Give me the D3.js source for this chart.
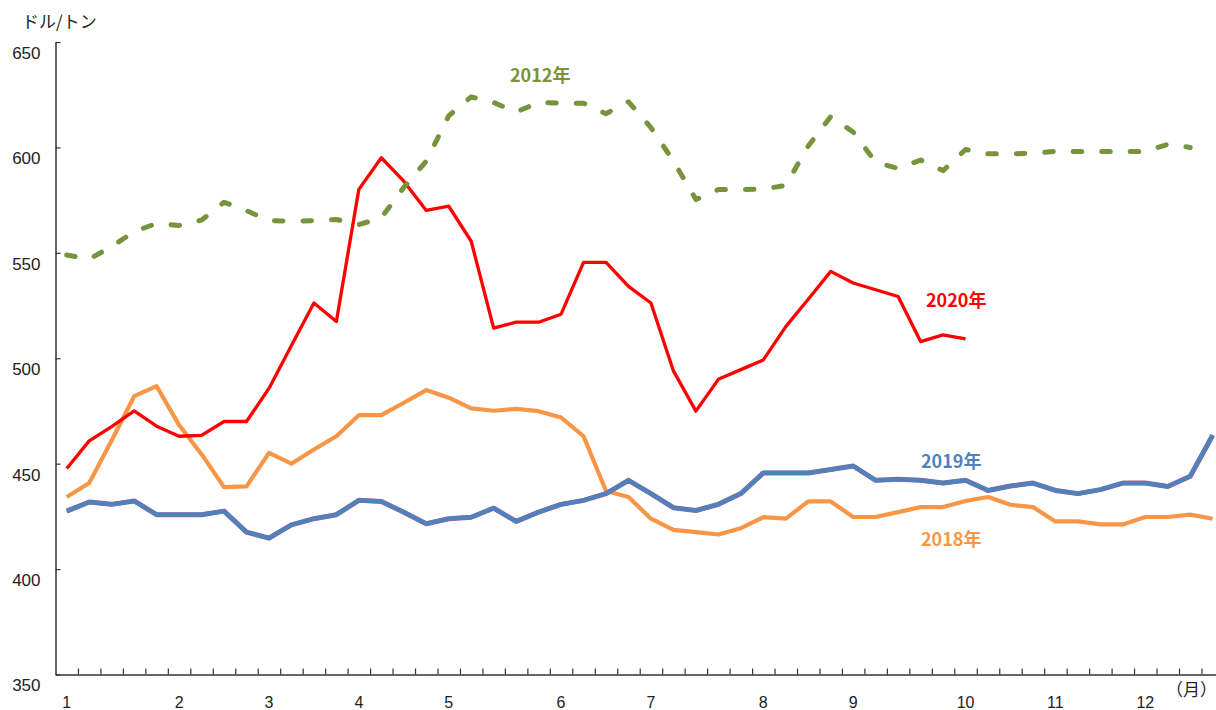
<!DOCTYPE html>
<html>
<head>
<meta charset="utf-8">
<script src="https://cdn.jsdelivr.net/npm/d3@7"></script>
<style>
  body { margin: 0; background: #fff; }
  svg { display: block; }
</style>
</head>
<body>
<script>
const width = 1216, height = 710;

// weekly prices, USD/t (52 weeks)
const y2012 = [549, 547, 553, 560, 564, 563, 565.5, 574, 570, 565.3, 565, 565.3, 565.8, 563.4, 566.6, 581, 593.5,
  615, 624, 621.3, 616.8, 621.3, 621, 621, 616, 621.6, 609.4, 593.5, 575.3, 580, 580, 580.2, 582, 600.7, 614.6,
  607.3, 593, 590, 594, 589, 599, 597, 597, 597.2, 598.1, 598.1, 598.1, 598.1, 598.1, 601.5, 600];
const y2018 = [434.2, 440.8, 461, 482, 486.8, 468.3, 454.5, 438.9, 439.2, 455.1, 450, 456.7, 463, 473, 473, 478.9, 484.9,
  481.3, 476.2, 475.1, 476, 474.9, 471.9, 463, 437, 434.2, 423.9, 418.6, 417.5, 416.4, 419.4, 424.6, 423.9, 432.1, 432.1,
  424.7, 424.7, 427, 429.4, 429.4, 432.3, 434.2, 430.5, 429.4, 422.6, 422.6, 421.2, 421.2, 424.7, 424.7, 425.8, 423.9];
const y2019 = [427.5, 431.8, 430.7, 432.3, 425.8, 425.8, 425.8, 427.5, 417.5, 414.7, 421, 423.9, 425.8, 432.6, 432.1, 427, 421.5,
  423.9, 424.6, 428.9, 422.6, 427, 430.7, 432.6, 435.8, 442.1, 435.8, 429.1, 427.8, 430.7, 435.8, 445.6, 445.6, 445.6, 447.2,
  448.9, 442.1, 442.6, 442.1, 440.8, 442.1, 437.3, 439.4, 440.8, 437.3, 435.8, 437.7, 440.8, 440.8, 439.2, 444, 463.5];
const y2020 = [447.7, 460.8, 467.6, 475, 467.8, 463, 463.4, 470, 470, 485.7, 506, 526.2, 517.4, 580.1, 595.1, 584, 570.1,
  572.1, 555.5, 514.3, 517.1, 517.1, 520.9, 545.5, 545.5, 534.1, 526.2, 494, 474.9, 490, 494.6, 499.2, 515, 528, 541.2,
  535.7, 532.5, 529.3, 507.9, 511.1, 509.2];

const monthLabels = ["1", "2", "3", "4", "5", "6", "7", "8", "9", "10", "11", "12"];
const monthStartWeek = [0, 5, 9, 13, 17, 22, 26, 31, 35, 40, 44, 48];
const yTicks = [350, 400, 450, 500, 550, 600, 650];

const nWeeks = 52;
const step = 22.47;
const x0 = 55.5;

const x = d3.scaleLinear().domain([0, nWeeks]).range([x0, x0 + nWeeks * step]);
const y = d3.scaleLinear().domain([350, 650]).range([674.5, 42]);
const px = i => x(i + 0.5);

const svg = d3.select("body").append("svg")
  .attr("width", width)
  .attr("height", height);

// y axis
const yAxis = svg.append("g")
  .attr("transform", `translate(${x0},0)`)
  .call(d3.axisLeft(y).tickValues(yTicks).tickSizeInner(-5).tickSizeOuter(0).tickPadding(15));
yAxis.select(".domain").attr("stroke", "#333").attr("stroke-width", 1.5);
yAxis.selectAll(".tick line").attr("stroke", "#333").attr("stroke-width", 1.2);
yAxis.selectAll(".tick text")
  .attr("transform", "translate(0,11)")
  .style("font-family", "'Liberation Sans', Arial, sans-serif")
  .style("font-size", "17px")
  .attr("fill", "#222");

// x axis (week ticks, month labels)
const xAxis = svg.append("g")
  .attr("transform", `translate(0,${y(350)})`)
  .call(d3.axisBottom(x).tickValues(d3.range(1, nWeeks)).tickSizeInner(-6).tickSizeOuter(0).tickFormat(""));
xAxis.select(".domain").attr("stroke", "#333").attr("stroke-width", 1.5);
xAxis.selectAll(".tick line").attr("stroke", "#333").attr("stroke-width", 1.2);

svg.selectAll(".month")
  .data(monthLabels)
  .enter()
  .append("text")
  .attr("class", "month")
  .attr("x", (d, i) => px(monthStartWeek[i]))
  .attr("y", 708)
  .attr("text-anchor", "middle")
  .style("font-family", "'Liberation Sans', Arial, sans-serif")
  .style("font-size", "16px")
  .attr("fill", "#222")
  .text(d => d);

svg.append("text")
  .attr("x", 1166)
  .attr("y", 696)
  .style("font-family", "'Noto Sans CJK JP', sans-serif")
  .style("font-size", "17px")
  .attr("fill", "#222")
  .text("（月）");

svg.append("text")
  .attr("x", 22)
  .attr("y", 28)
  .style("font-family", "'Noto Sans CJK JP', sans-serif")
  .style("font-size", "17px")
  .attr("fill", "#222")
  .text("ドル/トン");

// lines
const line = d3.line()
  .x((d, i) => px(i))
  .y(d => y(d));

svg.append("path")
  .datum(y2018)
  .attr("fill", "none")
  .attr("stroke", "#F79646")
  .attr("stroke-width", 4.2)
  .attr("stroke-linejoin", "round")
  .attr("d", line);

svg.append("path")
  .datum(y2019)
  .attr("fill", "none")
  .attr("stroke", "#A0608E")
  .attr("stroke-width", 5)
  .attr("stroke-linejoin", "round")
  .attr("d", line);

svg.append("path")
  .datum(y2019)
  .attr("fill", "none")
  .attr("stroke", "#4F81BD")
  .attr("stroke-width", 4.2)
  .attr("stroke-linejoin", "round")
  .attr("d", line);

svg.append("path")
  .datum(y2020)
  .attr("fill", "none")
  .attr("stroke", "#FF0000")
  .attr("stroke-width", 3.3)
  .attr("stroke-linejoin", "round")
  .attr("d", line);

svg.append("path")
  .datum(y2012)
  .attr("fill", "none")
  .attr("stroke", "#77933C")
  .attr("stroke-width", 5)
  .attr("stroke-linecap", "round")
  .attr("stroke-linejoin", "round")
  .attr("stroke-dasharray", "8.5,20")
  .attr("d", line);

// series labels
const labels = [
  { text: "2012年", x: 510, y: 82, color: "#77933C" },
  { text: "2020年", x: 926, y: 307, color: "#FF0000" },
  { text: "2019年", x: 921, y: 468, color: "#4F81BD" },
  { text: "2018年", x: 921, y: 546, color: "#F79646" }
];

svg.selectAll(".series-label")
  .data(labels)
  .enter()
  .append("text")
  .attr("class", "series-label")
  .attr("x", d => d.x)
  .attr("y", d => d.y)
  .style("font-family", "'Noto Sans CJK JP', sans-serif")
  .style("font-size", "18px")
  .style("font-weight", "bold")
  .attr("fill", d => d.color)
  .text(d => d.text);
</script>
</body>
</html>
